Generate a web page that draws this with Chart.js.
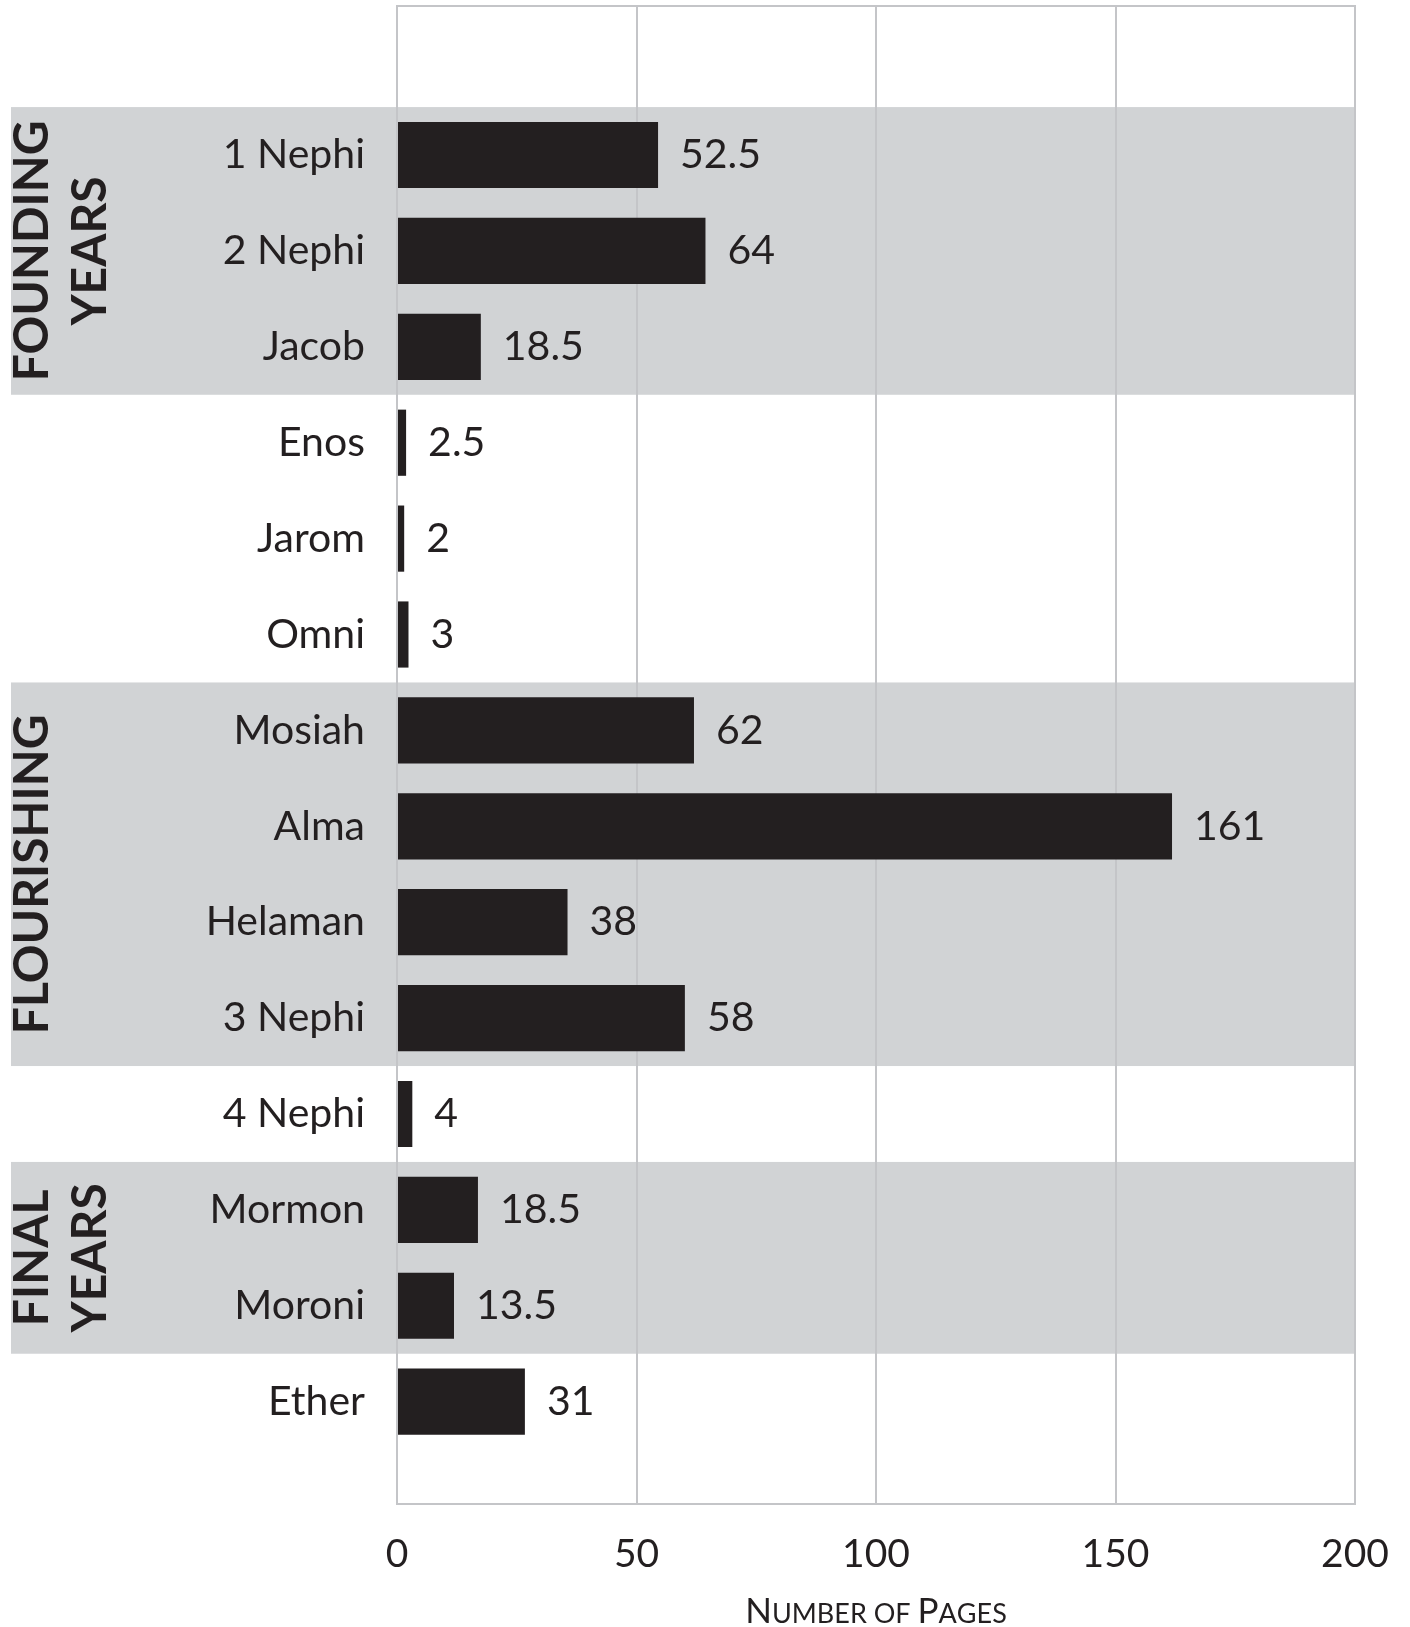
<!DOCTYPE html>
<html>
<head>
<meta charset="utf-8">
<script src="https://cdn.jsdelivr.net/npm/chart.js@4"></script>
<style>
  body { margin: 0; background: #fff; }
  #wrap { width: 1410px; height: 1627px; }
</style>
</head>
<body>
<div id="wrap"><canvas id="pagesChart"></canvas></div>
<script>
// books in order, top to bottom
const books = [
  "1 Nephi", "2 Nephi", "Jacob", "Enos", "Jarom", "Omni", "Mosiah",
  "Alma", "Helaman", "3 Nephi", "4 Nephi", "Mormon", "Moroni", "Ether"
];

// bar lengths
const pages = [54.5, 64.4, 17.5, 1.9, 1.5, 2.4, 62, 161.8, 35.6, 60.1, 3.2, 16.9, 11.9, 26.7];

// the labels printed next to the bars
const pageLabels = ["52.5", "64", "18.5", "2.5", "2", "3", "62", "161", "38", "58", "4", "18.5", "13.5", "31"];

const xTicks = [0, 50, 100, 150, 200];

// shaded groups (index of first and last book)
const groupNames = [["FOUNDING", "YEARS"], ["FLOURISHING"], ["FINAL", "YEARS"]];
const groupStart = [0, 6, 11];
const groupEnd = [2, 9, 12];

const axisTitle = "Number of Pages";

const ink = "#231f20";
const bandColor = "#d1d3d5";
const gridColor = "#c4c5c8";
const fontFamily = "Lato, 'Open Sans', sans-serif";

// gray bands behind the groups
const bandsPlugin = {
  id: "bands",
  beforeDraw(chart) {
    const ctx = chart.ctx;
    const y = chart.scales.y;
    const area = chart.chartArea;
    ctx.save();
    ctx.fillStyle = bandColor;
    groupNames.forEach((name, g) => {
      const y1 = y.getPixelForValue(groupStart[g] - 0.5);
      const y2 = y.getPixelForValue(groupEnd[g] + 0.5);
      ctx.fillRect(11, y1, area.right - 11, y2 - y1);
    });
    ctx.restore();
  }
};

// top border of the plot box
const framePlugin = {
  id: "frame",
  beforeDatasetsDraw(chart) {
    const ctx = chart.ctx;
    const area = chart.chartArea;
    ctx.save();
    ctx.strokeStyle = gridColor;
    ctx.lineWidth = 2;
    ctx.beginPath();
    ctx.moveTo(area.left - 1, area.top);
    ctx.lineTo(area.right + 1, area.top);
    ctx.stroke();
    ctx.restore();
  }
};

// value labels at the end of each bar
const valueLabelPlugin = {
  id: "valueLabels",
  afterDatasetsDraw(chart) {
    const ctx = chart.ctx;
    const meta = chart.getDatasetMeta(0);
    ctx.save();
    ctx.fillStyle = ink;
    ctx.font = "41px " + fontFamily;
    ctx.textAlign = "left";
    ctx.textBaseline = "middle";
    meta.data.forEach((bar, i) => {
      ctx.fillText(pageLabels[i], bar.x + 22, bar.y);
    });
    ctx.restore();
  }
};

// rotated group names + small caps axis title
const textPlugin = {
  id: "extraText",
  afterDraw(chart) {
    const ctx = chart.ctx;
    const y = chart.scales.y;
    const area = chart.chartArea;
    ctx.save();
    ctx.fillStyle = ink;
    ctx.font = "bold 48px " + fontFamily;
    ctx.textAlign = "center";
    ctx.textBaseline = "middle";
    groupNames.forEach((lines, g) => {
      const y1 = y.getPixelForValue(groupStart[g] - 0.5);
      const y2 = y.getPixelForValue(groupEnd[g] + 0.5);
      lines.forEach((line, k) => {
        ctx.save();
        ctx.translate(33 + k * 58, (y1 + y2) / 2);
        ctx.rotate(-Math.PI / 2);
        ctx.fillText(line, 0, 0);
        ctx.restore();
      });
    });

    // fake small caps: capitals big, the rest upper-cased smaller
    const big = "35px " + fontFamily;
    const small = "27px " + fontFamily;
    const parts = axisTitle.split("").map((ch) => {
      const isCap = ch !== " " && ch === ch.toUpperCase();
      return { text: ch.toUpperCase(), font: isCap ? big : small };
    });
    let total = 0;
    parts.forEach((p) => {
      ctx.font = p.font;
      p.w = ctx.measureText(p.text).width;
      total += p.w;
    });
    let x = (area.left + area.right) / 2 - total / 2;
    ctx.textAlign = "left";
    ctx.textBaseline = "alphabetic";
    parts.forEach((p) => {
      ctx.font = p.font;
      ctx.fillText(p.text, x, 1623);
      x += p.w;
    });
    ctx.restore();
  }
};

const ctxPages = document.getElementById("pagesChart").getContext("2d");
const pagesChart = new Chart(ctxPages, {
  type: "bar",
  data: {
    datasets: [{
      label: "Pages",
      data: pages.map((v, i) => ({ x: v, y: i })),
      backgroundColor: ink,
      borderWidth: 0,
      barPercentage: 0.69,
      categoryPercentage: 1,
    }],
  },
  options: {
    indexAxis: "y",
    responsive: true,
    maintainAspectRatio: false,
    animation: false,
    layout: {
      padding: { left: 0, right: 55, top: 6, bottom: 0 },
    },
    scales: {
      x: {
        type: "linear",
        min: 0,
        max: 200,
        afterBuildTicks: (scale) => {
          scale.ticks = xTicks.map((v) => ({ value: v }));
        },
        afterFit: (scale) => {
          scale.height = 123;
          scale.paddingLeft = 0;
          scale.paddingRight = 0;
        },
        grid: {
          color: gridColor,
          lineWidth: 2,
          drawTicks: false,
        },
        border: { display: true, color: gridColor, width: 2 },
        ticks: {
          color: ink,
          padding: 27,
          font: { family: fontFamily, size: 39 },
        },
      },
      y: {
        type: "linear",
        reverse: true,
        offset: false,
        min: -1.554,
        max: 14.067,
        afterBuildTicks: (scale) => {
          scale.ticks = books.map((b, i) => ({ value: i }));
        },
        afterFit: (scale) => {
          scale.width = 397;
          scale.paddingTop = 0;
          scale.paddingBottom = 0;
        },
        grid: { display: false, drawTicks: false, offset: false },
        border: { display: false },
        ticks: {
          autoSkip: false,
          color: ink,
          padding: 32,
          font: { family: fontFamily, size: 41 },
          callback: function(value) {
            return books[value];
          },
        },
      },
    },
    plugins: {
      legend: { display: false },
      tooltip: { enabled: false },
    },
  },
  plugins: [bandsPlugin, framePlugin, valueLabelPlugin, textPlugin],
});
</script>
</body>
</html>
